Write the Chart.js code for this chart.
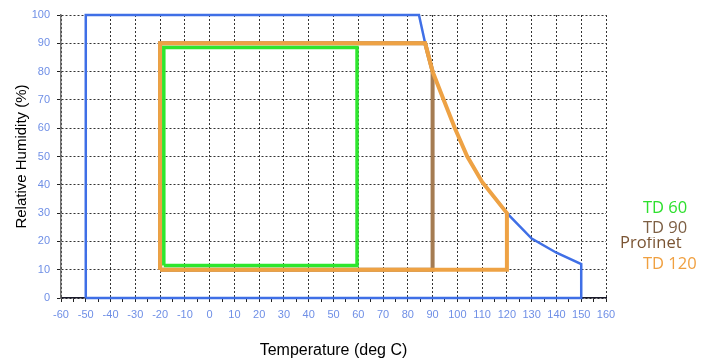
<!DOCTYPE html>
<html>
<head>
<meta charset="utf-8">
<script src="https://cdn.jsdelivr.net/npm/chart.js@4/dist/chart.umd.min.js"></script>
<style>
    html, body { margin: 0; padding: 0; background: #ffffff; }
    #wrap { position: relative; width: 709px; height: 362px; }
    .lbl {
        position: absolute;
        font-family: "Open Sans", "Noto Sans", sans-serif;
        font-size: 16.5px;
        white-space: nowrap;
    }
</style>
</head>
<body>
<div id="wrap">
    <canvas id="envChart" width="709" height="362"></canvas>
    <div class="lbl" style="left:620px; top:232px; line-height:20px; color:#7a5433;">Profinet</div>
    <div class="lbl" style="left:643px; top:216px; height:21px; line-height:21px; background:#ffffff; color:#7d5f44;">TD 90</div>
    <div class="lbl" style="left:643px; top:197px; line-height:20px; color:#2ee02e;">TD 60</div>
    <div class="lbl" style="left:643px; top:253px; line-height:20px; color:#f0a040;">TD 120</div>
</div>
<script>
// operating envelopes, temperature (deg C) vs relative humidity (%)
var profinetTemp = [-50, -50, 84.5, 87, 90, 94.5, 99, 104, 110, 120, 130, 140, 150, 150, -50];
var profinetHum  = [0, 100, 100, 90, 80, 70, 60, 50, 41, 30, 21, 16, 12, 0, 0];

var td120Temp = [-20, -20, 87, 90, 94.5, 99, 104, 110, 120, 120, -20];
var td120Hum  = [10, 90, 90, 80, 70, 60, 50, 41, 30, 10, 10];

var td90Temp = [-20, -20, 87, 90, 90, -20];
var td90Hum  = [10, 90, 90, 80, 10, 10];

var td60Temp = [-18.5, -18.5, 59.5, 59.5, -18.5];
var td60Hum  = [11.5, 88.5, 88.5, 11.5, 11.5];

function toPoints(xs, ys) {
    var pts = [];
    for (var i = 0; i < xs.length; i++) {
        pts.push({ x: xs[i], y: ys[i] });
    }
    return pts;
}

function envelope(name, xs, ys, color, width, order) {
    return {
        label: name,
        data: toPoints(xs, ys),
        showLine: true,
        borderColor: color,
        backgroundColor: color,
        borderWidth: width,
        pointRadius: 0,
        tension: 0,
        fill: false,
        clip: false,
        order: order
    };
}

var tickFont = { family: "Arial, 'Liberation Sans', sans-serif", size: 11 };
var gridDots = "#333333";

new Chart(document.getElementById("envChart").getContext("2d"), {
    type: "scatter",
    data: {
        datasets: [
            envelope("TD 60", td60Temp, td60Hum, "#2ee62e", 3.5, 0),
            envelope("TD 120", td120Temp, td120Hum, "#eea244", 4, 1),
            envelope("TD 90", td90Temp, td90Hum, "#a57c52", 4, 2),
            envelope("Profinet", profinetTemp, profinetHum, "#3f6fe6", 2.5, 3)
        ]
    },
    options: {
        responsive: false,
        animation: false,
        layout: { padding: { left: 0, right: 103, top: 15, bottom: 0 } },
        plugins: {
            legend: { display: false },
            tooltip: { enabled: false }
        },
        scales: {
            x: {
                type: "linear",
                min: -60,
                max: 160,
                afterFit: function (scale) { scale.height = 64; },
                ticks: {
                    stepSize: 5,
                    autoSkip: false,
                    maxRotation: 0,
                    padding: 6,
                    color: "#6f8fe6",
                    font: tickFont,
                    callback: function (value) {
                        return value % 10 === 0 ? value : "";
                    }
                },
                grid: {
                    color: function (ctx) {
                        return ctx.tick && ctx.tick.value % 10 === 0 ? gridDots : "rgba(0,0,0,0)";
                    },
                    tickColor: "#222222",
                    tickLength: 4,
                    lineWidth: 1
                },
                border: { color: "#1a1a2a", width: 1.5, dash: [2, 2] },
                title: {
                    display: true,
                    text: "Temperature (deg C)",
                    color: "#000000",
                    font: { family: "Arial, 'Liberation Sans', sans-serif", size: 16 },
                    padding: { top: 0, bottom: 2 }
                }
            },
            y: {
                type: "linear",
                min: 0,
                max: 100,
                afterFit: function (scale) { scale.width = 61; },
                ticks: {
                    stepSize: 10,
                    padding: 7,
                    color: "#6f8fe6",
                    font: tickFont
                },
                grid: {
                    color: gridDots,
                    tickColor: "#222222",
                    tickLength: 4,
                    lineWidth: 1
                },
                border: { color: "#707070", width: 1.5, dash: [2, 2] },
                title: {
                    display: true,
                    text: "Relative Humidity (%)",
                    color: "#000000",
                    font: { family: "Arial, 'Liberation Sans', sans-serif", size: 15 },
                    padding: { top: 13, bottom: 0 }
                }
            }
        }
    }
});
</script>
</body>
</html>
